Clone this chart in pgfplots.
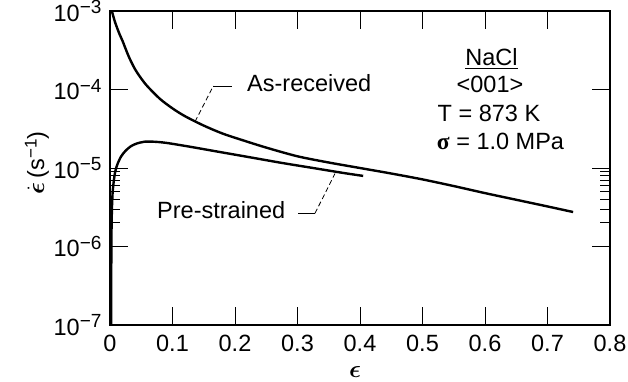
\documentclass[border=0pt]{standalone}
\usepackage{amsmath}
\usepackage{fontspec}
\setmainfont{Liberation Sans}
\newfontfamily\grk{Liberation Serif}
\usepackage{pgfplots}
\pgfplotsset{compat=1.18}

% power-of-ten tick label with a large superscript
\newcommand{\tp}[1]{10\raisebox{7.5bp}{\fontsize{19bp}{19bp}\selectfont −#1}}

\begin{document}
\begin{tikzpicture}[font=\fontsize{23.5bp}{28bp}\selectfont]
\begin{axis}[
  scale only axis, width=500bp, height=314bp,
  xmin=0, xmax=0.8, ymin=1e-7, ymax=1e-3, ymode=log,
  xtick={0,0.1,0.2,0.3,0.4,0.5,0.6,0.7,0.8},
  xticklabels={0,0.1,0.2,0.3,0.4,0.5,0.6,0.7,0.8},
  ytick={1e-7,1e-6,1e-5,1e-4,1e-3},
  yticklabels={\tp{7},\tp{6},\tp{5},\tp{4},\tp{3}},
  minor ytick={2e-6,3e-6,4e-6,5e-6,6e-6,7e-6,8e-6,9e-6},
  major tick length=18bp, minor tick length=10bp,
  axis line style={line width=1.2bp},
  every tick/.style={black, line width=0.9bp},
  xticklabel style={yshift=-7bp},
  yticklabel style={xshift=-5bp},
  xlabel={$\boldsymbol{\epsilon}$},
  xlabel style={at={(axis description cs:0.49,-0.15)}, anchor=center},
  ylabel={$\dot{\boldsymbol{\epsilon}}$\,(s\raisebox{7.5bp}{\fontsize{17bp}{17bp}\selectfont −1})},
  ylabel style={at={(axis description cs:-0.146,0.516)}, anchor=center},
]
% as-received specimen
\addplot[black, line width=2.4bp, smooth, tension=0.5] coordinates {
  (0.003,1.0e-3) (0.008,7.24e-4) (0.015,5.13e-4) (0.02,4.17e-4)
  (0.03,2.63e-4) (0.04,1.82e-4) (0.05,1.38e-4) (0.06,1.096e-4)
  (0.08,7.59e-5) (0.10,5.75e-5) (0.12,4.57e-5) (0.15,3.47e-5)
  (0.18,2.75e-5) (0.21,2.29e-5) (0.25,1.82e-5) (0.30,1.41e-5)
  (0.35,1.175e-5) (0.40,1.0e-5) (0.45,8.51e-6) (0.50,7.16e-6)
  (0.55,5.89e-6) (0.60,4.79e-6) (0.65,3.94e-6) (0.70,3.24e-6)
  (0.741,2.75e-6)
};
% pre-strained specimen
\addplot[black, line width=2.4bp, smooth, tension=0.5] coordinates {
  (0.0018,1.0e-7) (0.0022,1.0e-6) (0.003,2.82e-6) (0.0045,5.25e-6)
  (0.008,8.71e-6) (0.012,1.122e-5) (0.018,1.413e-5) (0.025,1.66e-5)
  (0.033,1.884e-5) (0.042,2.04e-5) (0.055,2.163e-5) (0.07,2.163e-5)
  (0.09,2.09e-5) (0.125,1.884e-5) (0.175,1.603e-5) (0.225,1.365e-5)
  (0.275,1.161e-5) (0.325,1.0e-5) (0.375,8.61e-6) (0.405,7.94e-6)
};
% labels with leader lines
\draw[line width=0.8bp, dash pattern=on 5bp off 3bp]
  (rel axis cs:0.17,0.6475) -- (rel axis cs:0.2066,0.7611);
\draw[line width=0.8bp] (rel axis cs:0.2066,0.7611) -- (rel axis cs:0.2434,0.7611);
\node[anchor=base west, inner sep=0pt] at (rel axis cs:0.274,0.745) {As-received};
\draw[line width=0.8bp] (rel axis cs:0.3766,0.3557) -- (rel axis cs:0.41,0.3557);
\draw[line width=0.8bp, dash pattern=on 5bp off 3bp]
  (rel axis cs:0.41,0.3557) -- (rel axis cs:0.45,0.4825);
\node[anchor=base west, inner sep=0pt] at (rel axis cs:0.094,0.3403) {Pre-strained};
% test conditions
\node[anchor=base, inner sep=0pt] at (rel axis cs:0.763,0.828) {\underline{NaCl}};
\node[anchor=base, inner sep=0pt] at (rel axis cs:0.76,0.7389) {<001>};
\node[anchor=base, inner sep=0pt] at (rel axis cs:0.758,0.6497) {T = 873 K};
\node[anchor=base, inner sep=0pt] at (rel axis cs:0.781,0.5605) {{\grk\bfseries σ} = 1.0 MPa};
\end{axis}
\pgfresetboundingbox
\path[use as bounding box] ([shift={(-110bp,-56bp)}]current axis.south west)
  rectangle ([shift={(18bp,11bp)}]current axis.north east);
\end{tikzpicture}
\end{document}
